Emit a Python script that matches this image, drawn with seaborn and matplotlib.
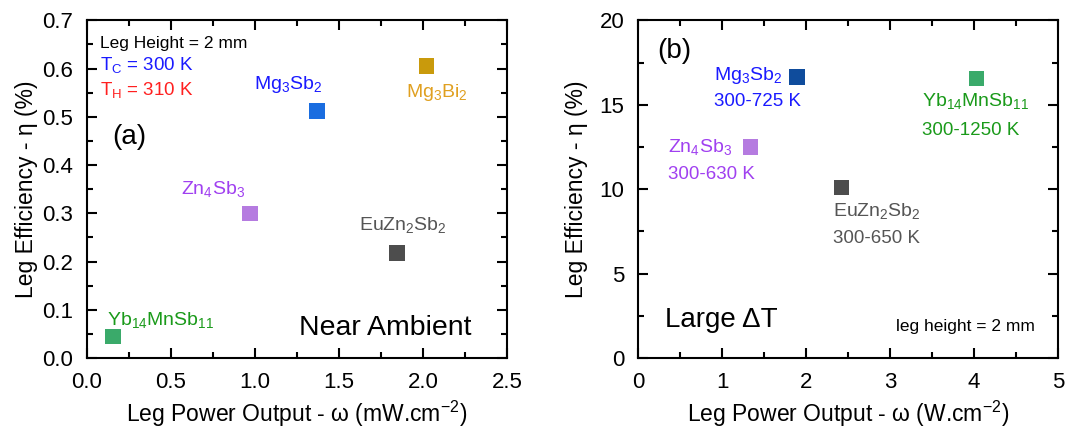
import matplotlib
matplotlib.use("Agg")
import matplotlib.pyplot as plt
from matplotlib.ticker import MultipleLocator
import seaborn as sns
import pandas as pd

# materiais
materiais = ["Yb14MnSb11", "Zn4Sb3", "Mg3Sb2", "Mg3Bi2", "EuZn2Sb2"]

# (a) perto da temperatura ambiente
potencia_a = [0.155, 0.97, 1.37, 2.02, 1.845]
eficiencia_a = [0.045, 0.30, 0.512, 0.605, 0.218]

# (b) grande delta T (sem Mg3Bi2)
materiais_b = ["Yb14MnSb11", "Zn4Sb3", "Mg3Sb2", "EuZn2Sb2"]
potencia_b = [4.03, 1.34, 1.89, 2.42]
eficiencia_b = [16.55, 12.5, 16.65, 10.1]
faixas_b = ["300-1250 K", "300-630 K", "300-725 K", "300-650 K"]

cores_a = {"Yb14MnSb11": "#3aaa6a", "Zn4Sb3": "#b57be0", "Mg3Sb2": "#1a6de0",
           "Mg3Bi2": "#c99a0c", "EuZn2Sb2": "#4d4d4d"}
cores_b = dict(cores_a, Mg3Sb2="#0f4c9c")

nomes = {"Yb14MnSb11": r"Yb$\mathregular{_{14}}$MnSb$\mathregular{_{11}}$",
         "Zn4Sb3": r"Zn$\mathregular{_4}$Sb$\mathregular{_3}$",
         "Mg3Sb2": r"Mg$\mathregular{_3}$Sb$\mathregular{_2}$",
         "Mg3Bi2": r"Mg$\mathregular{_3}$Bi$\mathregular{_2}$",
         "EuZn2Sb2": r"EuZn$\mathregular{_2}$Sb$\mathregular{_2}$"}

df_a = pd.DataFrame({"Material": materiais, "Potencia": potencia_a, "Eficiencia": eficiencia_a})
df_b = pd.DataFrame({"Material": materiais_b, "Potencia": potencia_b, "Eficiencia": eficiencia_b})

sns.set_theme(style="ticks")
plt.rcParams["font.family"] = ["Liberation Sans", "DejaVu Sans"]
plt.rcParams["mathtext.fontset"] = "custom"
plt.rcParams["mathtext.rm"] = "Liberation Sans"
plt.rcParams["text.color"] = "black"
plt.rcParams["axes.labelcolor"] = "black"
plt.rcParams["xtick.color"] = "black"
plt.rcParams["ytick.color"] = "black"

fig = plt.figure(figsize=(10.67, 4.32), dpi=100)
ax1 = fig.add_axes([0.0815, 0.171, 0.3936, 0.782])
ax2 = fig.add_axes([0.598, 0.171, 0.3936, 0.782])

sns.scatterplot(data=df_a, x="Potencia", y="Eficiencia", hue="Material", palette=cores_a,
                marker="s", s=125, linewidth=0, legend=False, ax=ax1)
sns.scatterplot(data=df_b, x="Potencia", y="Eficiencia", hue="Material", palette=cores_b,
                marker="s", s=125, linewidth=0, legend=False, ax=ax2)

def estilo(ax, xmax, xmaj, ymax, ymaj):
    ax.set_xlim(0, xmax)
    ax.set_ylim(0, ymax)
    ax.xaxis.set_major_locator(MultipleLocator(xmaj))
    ax.xaxis.set_minor_locator(MultipleLocator(xmaj / 2))
    ax.yaxis.set_major_locator(MultipleLocator(ymaj))
    ax.yaxis.set_minor_locator(MultipleLocator(ymaj / 2))
    ax.tick_params(which="both", direction="in", top=True, right=True, width=1.5,
                   labelsize=16, pad=10, color="black")
    ax.tick_params(which="major", length=7)
    ax.tick_params(which="minor", length=4)
    for s in ax.spines.values():
        s.set_linewidth(1.5)
        s.set_color("black")
    ax.set_ylabel(r"Leg Efficiency - η (%)", fontsize=16.5)

estilo(ax1, 2.5, 0.5, 0.7, 0.1)
estilo(ax2, 5, 1, 20, 5)
ax1.set_yticklabels([f"{v:.1f}" for v in ax1.get_yticks()])
ax1.set_xticklabels([f"{v:.1f}" for v in ax1.get_xticks()])
ax1.set_xlabel(r"Leg Power Output - ω (mW.cm$\mathregular{^{-2}}$)", fontsize=16.5, labelpad=4)
ax2.set_xlabel(r"Leg Power Output - ω (W.cm$\mathregular{^{-2}}$)", fontsize=16.5, labelpad=4)
ax1.yaxis.labelpad = 3
ax2.yaxis.labelpad = 8

# rotulos do painel (a)
ax1.text(0.077, 0.652, "Leg Height = 2 mm", fontsize=12.5, va="center")
ax1.text(0.077, 0.607, r"T$\mathregular{_C}$ = 300 K", fontsize=13.5, va="center", color="#1a1aff")
ax1.text(0.077, 0.555, r"T$\mathregular{_H}$ = 310 K", fontsize=13.5, va="center", color="#ff2020")
ax1.text(0.15, 0.458, "(a)", fontsize=20, va="center")
ax1.text(1.2, 0.567, nomes["Mg3Sb2"], fontsize=14, ha="center", va="center", color="#1a1aff")
ax1.text(2.08, 0.550, nomes["Mg3Bi2"], fontsize=14, ha="center", va="center", color="#e0a020")
ax1.text(0.75, 0.350, nomes["Zn4Sb3"], fontsize=14, ha="center", va="center", color="#a040f0")
ax1.text(1.88, 0.275, nomes["EuZn2Sb2"], fontsize=14, ha="center", va="center", color="#555555")
ax1.text(0.12, 0.080, nomes["Yb14MnSb11"], fontsize=14, ha="left", va="center", color="#1a9a1a")
ax1.text(2.29, 0.062, "Near Ambient", fontsize=20.5, ha="right", va="center")

# rotulos do painel (b)
cores_txt_b = {"Mg3Sb2": "#1a1aff", "Zn4Sb3": "#a040f0", "Yb14MnSb11": "#1a9a1a", "EuZn2Sb2": "#555555"}
pos_txt_b = {"Mg3Sb2": (0.9, 16.75, 15.2), "Zn4Sb3": (0.36, 12.5, 10.9),
             "Yb14MnSb11": (3.38, 15.2, 13.45), "EuZn2Sb2": (2.32, 8.7, 7.1)}
for m, faixa in zip(materiais_b, faixas_b):
    x, y1, y2 = pos_txt_b[m]
    ax2.text(x, y1, nomes[m], fontsize=14, va="center", color=cores_txt_b[m])
    ax2.text(x, y2, faixa, fontsize=13.5, va="center", color=cores_txt_b[m])
ax2.text(0.23, 18.2, "(b)", fontsize=20, va="center")
ax2.text(0.32, 2.25, "Large ΔT", fontsize=20, va="center")
ax2.text(4.72, 1.85, "leg height = 2 mm", fontsize=12.5, ha="right", va="center")

fig.savefig("out.png", dpi=100)
